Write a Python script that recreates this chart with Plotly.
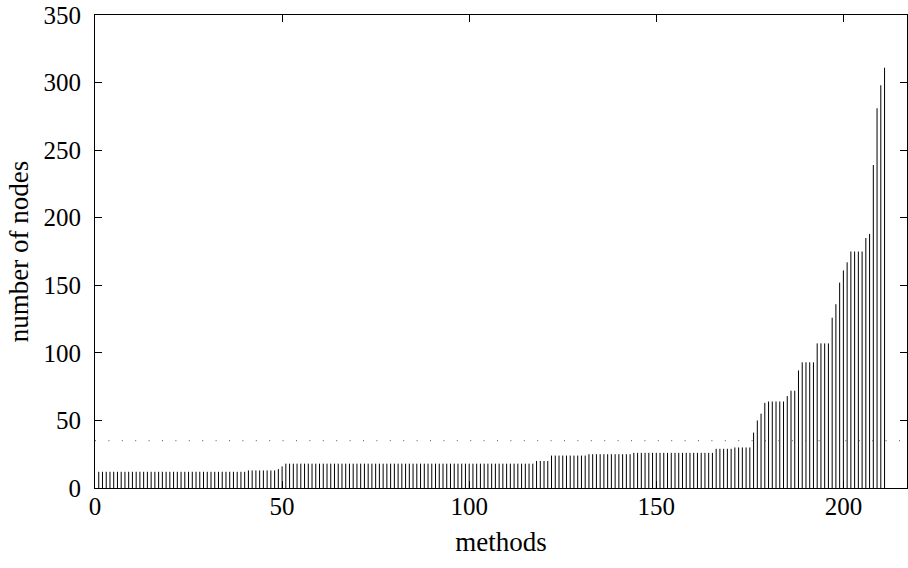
import plotly.graph_objects as go

# Run-length description of the sorted node counts
run_values = [12, 13, 14, 16, 18, 20, 24, 25, 26, 29, 30,
              41, 50, 55, 63, 64, 68, 72, 87, 93, 107,
              126, 136, 152, 161, 167, 175, 185, 188, 239, 281, 298, 311]
run_lengths = [40, 8, 1, 1, 67, 4, 10, 12, 22, 5, 5,
               1, 1, 1, 1, 5, 1, 2, 1, 4, 4,
               1, 1, 1, 1, 1, 4, 1, 1, 1, 1, 1, 1]
reference_level = 35
x_range = [0, 217]
y_range = [0, 350]
x_ticks = [0, 50, 100, 150, 200]
y_ticks = [0, 50, 100, 150, 200, 250, 300, 350]

nodes = []
for v, n in zip(run_values, run_lengths):
    nodes.extend([v] * n)
methods = list(range(1, len(nodes) + 1))

xs, ys = [], []
for m, v in zip(methods, nodes):
    xs += [m, m, None]
    ys += [0, v, None]

fig = go.Figure()
fig.add_trace(go.Scatter(x=xs, y=ys, mode="lines",
                         line=dict(color="black", width=1),
                         hoverinfo="skip", showlegend=False))
fig.add_trace(go.Scatter(x=x_range, y=[reference_level, reference_level], mode="lines",
                         line=dict(color="#555555", width=1, dash="1px,12.4px"),
                         hoverinfo="skip", showlegend=False))

font = dict(family="Liberation Serif, DejaVu Serif, serif", size=25, color="black")
title_font = dict(family="Liberation Serif, DejaVu Serif, serif", size=27, color="black")
axis_common = dict(showline=True, linecolor="black", linewidth=1, mirror="ticks",
                   ticks="inside", ticklen=7, tickcolor="black", tickwidth=1,
                   showgrid=False, zeroline=False, tickfont=font, automargin=False,
                   ticklabeloverflow="allow")

fig.update_xaxes(range=x_range, tickvals=x_ticks, ticklabelstandoff=-4,
                 title=dict(text="methods", font=title_font, standoff=13), **axis_common)
fig.update_yaxes(range=y_range, tickvals=y_ticks, ticklabelstandoff=8,
                 title=dict(text="number of nodes", font=title_font, standoff=7), **axis_common)

fig.update_layout(width=908, height=568, margin=dict(l=95, r=1, t=15, b=80),
                  plot_bgcolor="white", paper_bgcolor="white", font=font)
fig.write_html("out.html", config={"displayModeBar": False},
               post_script="document.body.style.margin='0';document.body.style.overflow='hidden';")
